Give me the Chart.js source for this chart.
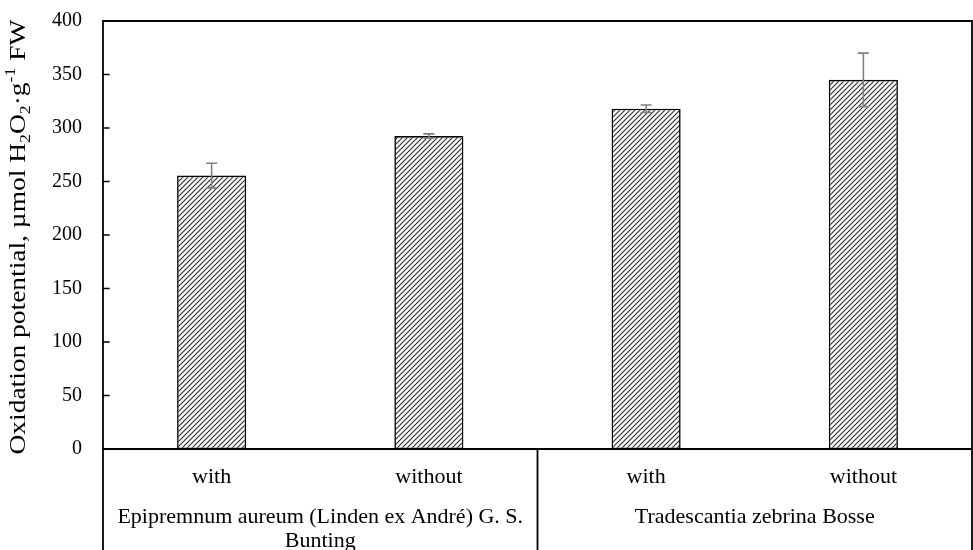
<!DOCTYPE html>
<html>
<head>
<meta charset="utf-8">
<script src="https://cdn.jsdelivr.net/npm/chart.js@4.4.1/dist/chart.umd.min.js"></script>
<style>
  html, body { margin: 0; padding: 0; background: #fff; }
  #wrap { width: 973px; height: 550px; }
</style>
</head>
<body>
<div id="wrap"><canvas id="c" width="973" height="550"></canvas></div>
<script>
// Treatment labels (first level of the category axis)
const categories = ['with', 'without', 'with', 'without'];
// Species groups (second level), each spanning two treatments
const groupLabels = [
  ['Epipremnum aureum (Linden ex André) G. S.', 'Bunting'],
  ['Tradescantia zebrina Bosse']
];
const groupSpans = [2, 2];
// Oxidation potential means and their error (±)
const values = [255.5, 292.5, 318, 345];
const errors = [11.5, 2, 3.5, 25];
// Value axis ticks
const yMin = 0, yMax = 400, yStep = 50;

const FONT = '"Liberation Serif", "Times New Roman", serif';
const TICK_SIZE = 20;
const CAT_SIZE = 22;
const TITLE_SIZE = 23;
const TITLE_LENGTH = 435;

// Diagonal hatch fill for the bars
function makeHatch() {
  const s = 5;
  const cv = document.createElement('canvas');
  cv.width = s; cv.height = s;
  const g = cv.getContext('2d');
  g.fillStyle = '#ffffff';
  g.fillRect(0, 0, s, s);
  g.strokeStyle = '#2a2a2a';
  g.lineWidth = 1.1;
  g.beginPath();
  g.moveTo(-1, s + 1); g.lineTo(s + 1, -1);
  g.moveTo(-1, 1); g.lineTo(1, -1);
  g.moveTo(s - 1, s + 1); g.lineTo(s + 1, s - 1);
  g.stroke();
  return g.createPattern(cv, 'repeat');
}

const framePlugin = {
  id: 'frame',
  afterDatasetsDraw(chart) {
    // Error bars
    const ctx = chart.ctx;
    const meta = chart.getDatasetMeta(0);
    const y = chart.scales.y;
    ctx.save();
    ctx.strokeStyle = '#808080';
    ctx.lineWidth = 1.6;
    meta.data.forEach((bar, i) => {
      const x = bar.x;
      const yTop = y.getPixelForValue(values[i] + errors[i]);
      const yBot = y.getPixelForValue(values[i] - errors[i]);
      ctx.beginPath();
      ctx.moveTo(x, yTop); ctx.lineTo(x, yBot);
      ctx.moveTo(x - 5.5, yTop); ctx.lineTo(x + 5.5, yTop);
      ctx.moveTo(x - 5.5, yBot); ctx.lineTo(x + 5.5, yBot);
      ctx.stroke();
    });
    ctx.restore();
  },
  afterDraw(chart) {
    const ctx = chart.ctx;
    const a = chart.chartArea;
    const ys = chart.scales.y;
    const H = chart.height;
    ctx.save();
    ctx.strokeStyle = '#000';
    ctx.lineWidth = 1.8;
    ctx.lineCap = 'square';
    // plot frame
    ctx.beginPath();
    ctx.moveTo(a.left, a.top); ctx.lineTo(a.right, a.top);
    ctx.moveTo(a.left, a.bottom); ctx.lineTo(a.right, a.bottom);
    ctx.moveTo(a.left, a.top); ctx.lineTo(a.left, H);
    ctx.moveTo(a.right, a.top); ctx.lineTo(a.right, H);
    ctx.stroke();
    // group separators below the axis
    const step = (a.right - a.left) / categories.length;
    let idx = 0;
    ctx.beginPath();
    groupSpans.forEach((n, gi) => {
      idx += n;
      if (gi < groupSpans.length - 1) {
        const xx = a.left + step * idx;
        ctx.moveTo(xx, a.bottom); ctx.lineTo(xx, H);
      }
    });
    ctx.stroke();
    // inward tick marks on the value axis
    ctx.lineWidth = 1.3;
    ctx.beginPath();
    ys.ticks.forEach(t => {
      const py = ys.getPixelForValue(t.value);
      ctx.moveTo(a.left, py); ctx.lineTo(a.left + 6, py);
    });
    ctx.stroke();

    // group labels
    ctx.fillStyle = '#000';
    ctx.font = CAT_SIZE + 'px ' + FONT;
    ctx.textAlign = 'center';
    ctx.textBaseline = 'middle';
    idx = 0;
    groupSpans.forEach((n, gi) => {
      const x0 = a.left + step * idx;
      const x1 = a.left + step * (idx + n);
      idx += n;
      const cx = (x0 + x1) / 2;
      groupLabels[gi].forEach((line, li) => {
        ctx.fillText(line, cx, 517 + li * 24);
      });
    });

    // value axis title with sub/superscripts
    const parts = [
      { t: 'Oxidation potential, µmol H', k: 'n' },
      { t: '2', k: 'sub' },
      { t: 'O', k: 'n' },
      { t: '2', k: 'sub' },
      { t: '·g', k: 'n' },
      { t: '-1', k: 'sup' },
      { t: ' FW', k: 'n' }
    ];
    const small = Math.round(TITLE_SIZE * 0.66);
    let total = 0;
    parts.forEach(p => {
      ctx.font = (p.k === 'n' ? TITLE_SIZE : small) + 'px ' + FONT;
      p.w = ctx.measureText(p.t).width;
      total += p.w;
    });
    const stretch = TITLE_LENGTH / total;
    ctx.translate(17, 237);
    ctx.rotate(-Math.PI / 2);
    ctx.scale(stretch, 1);
    ctx.textAlign = 'left';
    ctx.textBaseline = 'alphabetic';
    let px = -total / 2;
    const base = TITLE_SIZE * 0.33;
    parts.forEach(p => {
      ctx.font = (p.k === 'n' ? TITLE_SIZE : small) + 'px ' + FONT;
      let dy = 0;
      if (p.k === 'sub') dy = TITLE_SIZE * 0.22;
      if (p.k === 'sup') dy = -TITLE_SIZE * 0.4;
      ctx.fillText(p.t, px, base + dy);
      px += p.w;
    });
    ctx.restore();
  }
};

new Chart(document.getElementById('c'), {
  type: 'bar',
  data: {
    labels: categories,
    datasets: [{
      data: values,
      backgroundColor: makeHatch(),
      borderColor: '#000',
      borderWidth: 1.6,
      borderSkipped: false,
      barPercentage: 0.318,
      categoryPercentage: 1.0
    }]
  },
  options: {
    responsive: false,
    animation: false,
    devicePixelRatio: 1,
    layout: { padding: { top: 21, right: 1, left: 0, bottom: 0 } },
    plugins: { legend: { display: false }, tooltip: { enabled: false } },
    scales: {
      x: {
        grid: { display: false, drawTicks: false },
        border: { display: false },
        ticks: { color: '#000', padding: 15, font: { family: FONT, size: CAT_SIZE } },
        afterFit(s) { s.height = 101; s.paddingLeft = 0; s.paddingRight = 0; }
      },
      y: {
        min: yMin, max: yMax,
        grid: { display: false, drawTicks: false },
        border: { display: false },
        ticks: { stepSize: yStep, color: '#000', padding: 21, font: { family: FONT, size: TICK_SIZE } },
        afterFit(s) { s.width = 103; s.paddingTop = 0; s.paddingBottom = 0; }
      }
    }
  },
  plugins: [framePlugin]
});
</script>
</body>
</html>
